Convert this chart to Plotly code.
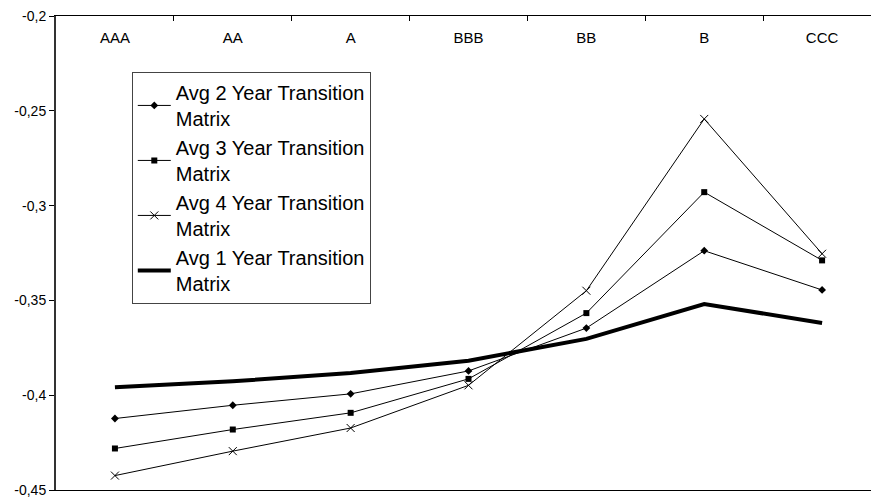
import plotly.graph_objects as go

categories = ["AAA", "AA", "A", "BBB", "BB", "B", "CCC"]
avg2 = [-0.4123, -0.4053, -0.3993, -0.3872, -0.3646, -0.3238, -0.3445]
avg3 = [-0.4281, -0.4181, -0.4093, -0.3914, -0.3567, -0.2929, -0.3289]
avg4 = [-0.4424, -0.4295, -0.4173, -0.3948, -0.3449, -0.2543, -0.3254]
avg1 = [-0.3958, -0.3927, -0.3883, -0.3818, -0.3703, -0.3519, -0.3619]
ytick_vals = [-0.2, -0.25, -0.3, -0.35, -0.4, -0.45]
ytick_text = ["-0,2", "-0,25", "-0,3", "-0,35", "-0,4", "-0,45"]

fig = go.Figure()
fig.add_trace(go.Scatter(x=categories, y=avg2, mode="lines+markers",
                         name="Avg 2 Year Transition<br>Matrix",
                         line=dict(color="black", width=1),
                         marker=dict(symbol="diamond", size=6, color="black")))
fig.add_trace(go.Scatter(x=categories, y=avg3, mode="lines+markers",
                         name="Avg 3 Year Transition<br>Matrix",
                         line=dict(color="black", width=1),
                         marker=dict(symbol="square", size=6, color="black")))
fig.add_trace(go.Scatter(x=categories, y=avg4, mode="lines+markers",
                         name="Avg 4 Year Transition<br>Matrix",
                         line=dict(color="black", width=1),
                         marker=dict(symbol="x-thin-open", size=8, color="black",
                                     line=dict(color="black", width=1))))
fig.add_trace(go.Scatter(x=categories, y=avg1, mode="lines",
                         name="Avg 1 Year Transition<br>Matrix",
                         line=dict(color="black", width=4)))
# invisible helper trace so the label axis (x2) is drawn
fig.add_trace(go.Scatter(x=categories, y=avg1, xaxis="x2", mode="markers",
                         marker=dict(opacity=0), showlegend=False,
                         hoverinfo="skip"))

xrange = [-0.5, 6.415]
fig.update_layout(
    width=871, height=497,
    margin=dict(l=56, r=0, t=16, b=7, autoexpand=False),
    paper_bgcolor="white", plot_bgcolor="white",
    font=dict(family="Liberation Sans, Arial, sans-serif", color="black", size=14),
    showlegend=True,
    legend=dict(x=0.093, y=0.882, xanchor="left", yanchor="top",
                bordercolor="#444", borderwidth=1, bgcolor="white",
                font=dict(size=20), tracegroupgap=0, itemwidth=33),
    xaxis=dict(side="top", type="category", range=xrange, automargin=False,
               categoryorder="array", categoryarray=categories,
               showline=True, linecolor="black", linewidth=1, mirror=True,
               ticks="inside", ticklen=5, tickwidth=1, tickson="boundaries",
               tickcolor="black",
               showticklabels=False, showgrid=False, zeroline=False),
    xaxis2=dict(overlaying="x", side="top", anchor="free", position=0.936,
                type="category", range=xrange,
                categoryorder="array", categoryarray=categories,
                showline=False, ticks="", showgrid=False, zeroline=False,
                automargin=False, tickfont=dict(size=15, color="black")),
    yaxis=dict(range=[-0.45, -0.2], tickvals=ytick_vals, ticktext=ytick_text,
               automargin=False, ticklabeloverflow="allow",
               showline=True, linecolor="#333", linewidth=2,
               ticks="outside", ticklen=5, tickcolor="black",
               showgrid=False, zeroline=False, tickfont=dict(size=14)),
)
fig.write_html("out.html", config={"displayModeBar": False},
               post_script="document.body.style.margin='0';document.body.style.padding='0';")
